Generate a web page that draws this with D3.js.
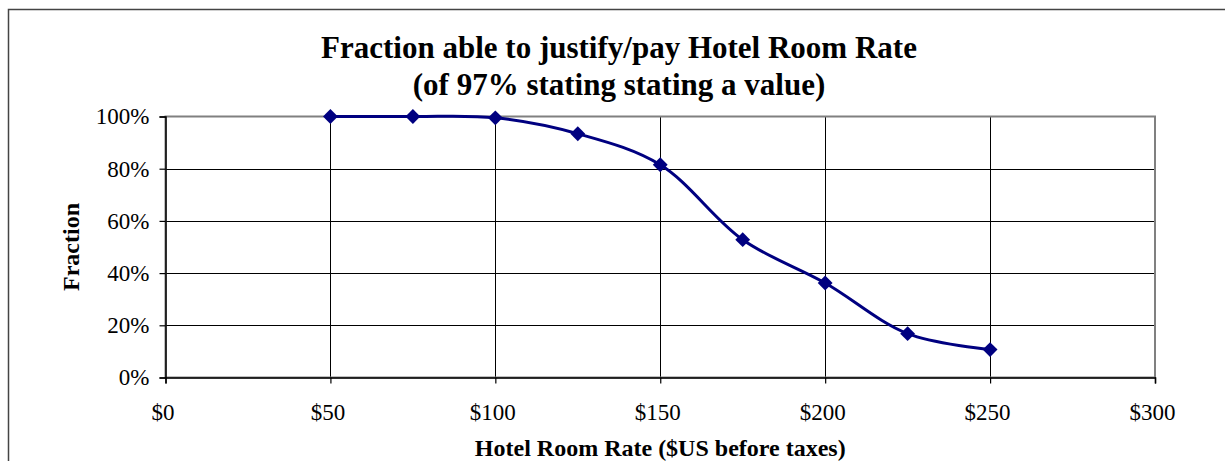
<!DOCTYPE html>
<html>
<head>
<meta charset="utf-8">
<script src="https://cdn.jsdelivr.net/npm/d3@7"></script>
<style>
  body { margin: 0; background: #fff; }
  svg { display: block; }
  text { font-family: "Liberation Serif", "Times New Roman", serif; fill: #000; }
</style>
</head>
<body>
<svg id="chart"></svg>
<script>
// data
const rates = [50, 75, 100, 125, 150, 175, 200, 225, 250];
const fractions = [1.00, 1.00, 0.995, 0.934, 0.815, 0.528, 0.362, 0.168, 0.107];
const xTicks = [0, 50, 100, 150, 200, 250, 300];
const yTicks = [0, 0.2, 0.4, 0.6, 0.8, 1.0];
const titleLines = ["Fraction able to justify/pay Hotel Room Rate", "(of 97% stating stating a value)"];
const xTitle = "Hotel Room Rate ($US before taxes)";
const yTitle = "Fraction";

const W = 1225, H = 461;
const plot = { left: 165.5, top: 116.5, right: 1155, bottom: 377.5 };

const svg = d3.select("#chart").attr("width", W).attr("height", H);

// outer chart border (cut off on right and bottom)
svg.append("rect")
  .attr("x", 8.5).attr("y", 9.5)
  .attr("width", W + 20).attr("height", H + 20)
  .attr("fill", "#fff")
  .attr("stroke", "#444")
  .attr("stroke-width", 1.5);

const x = d3.scaleLinear().domain([0, 300]).range([plot.left, plot.right]);
const y = d3.scaleLinear().domain([0, 1]).range([plot.bottom, plot.top]);

// gridlines
const grid = svg.append("g");
grid.selectAll(".hg")
  .data(yTicks.slice(1, -1))
  .enter().append("line")
  .attr("x1", plot.left).attr("x2", plot.right)
  .attr("y1", d => Math.round(y(d)) + 0.5).attr("y2", d => Math.round(y(d)) + 0.5)
  .attr("stroke", "#000").attr("stroke-width", 1);
grid.selectAll(".vg")
  .data(xTicks.slice(1, -1))
  .enter().append("line")
  .attr("x1", d => Math.round(x(d)) + 0.5).attr("x2", d => Math.round(x(d)) + 0.5)
  .attr("y1", plot.top).attr("y2", plot.bottom)
  .attr("stroke", "#000").attr("stroke-width", 1);

// plot area border
svg.append("rect")
  .attr("x", plot.left).attr("y", plot.top)
  .attr("width", plot.right - plot.left).attr("height", plot.bottom - plot.top)
  .attr("fill", "none")
  .attr("stroke", "#808080")
  .attr("stroke-width", 2);

// axes
const yAxis = svg.append("g")
  .attr("transform", `translate(${plot.left},0)`)
  .call(d3.axisLeft(y).tickValues(yTicks).tickFormat(d3.format(".0%")).tickSize(6).tickPadding(10));
const xAxis = svg.append("g")
  .attr("transform", `translate(0,${plot.bottom})`)
  .call(d3.axisBottom(x).tickValues(xTicks).tickFormat(d => "$" + d).tickSize(6).tickPadding(20));

[yAxis, xAxis].forEach(a => {
  a.select(".domain").attr("stroke", "#000").attr("stroke-width", 1.5);
  a.selectAll(".tick line").attr("stroke", "#000").attr("stroke-width", 1.2);
  a.selectAll("text")
    .attr("font-family", "'Liberation Serif', 'Times New Roman', serif")
    .attr("font-size", 23)
    .attr("fill", "#000");
});
xAxis.selectAll(".tick text").attr("dy", "0.71em").attr("dx", -3);

// series
const line = d3.line()
  .x((d, i) => x(rates[i]))
  .y(d => y(d))
  .curve(d3.curveCatmullRom.alpha(0.5));

svg.append("path")
  .datum(fractions)
  .attr("d", line)
  .attr("fill", "none")
  .attr("stroke", "#000080")
  .attr("stroke-width", 3);

svg.selectAll(".marker")
  .data(fractions)
  .enter().append("path")
  .attr("d", d3.symbol().type(d3.symbolSquare).size(110))
  .attr("transform", (d, i) => `translate(${x(rates[i])},${y(d)}) rotate(45)`)
  .attr("fill", "#000080");

// titles
svg.append("text")
  .attr("text-anchor", "middle")
  .attr("font-size", 31)
  .attr("font-weight", "bold")
  .selectAll("tspan")
  .data(titleLines)
  .enter().append("tspan")
  .attr("x", 619)
  .attr("y", (d, i) => 57.5 + i * 37)
  .text(d => d);

svg.append("text")
  .attr("x", (plot.left + plot.right) / 2)
  .attr("y", 456)
  .attr("text-anchor", "middle")
  .attr("font-size", 24)
  .attr("font-weight", "bold")
  .text(xTitle);

svg.append("text")
  .attr("transform", `translate(79,${(plot.top + plot.bottom) / 2}) rotate(-90)`)
  .attr("text-anchor", "middle")
  .attr("font-size", 24)
  .attr("font-weight", "bold")
  .text(yTitle);
</script>
</body>
</html>
